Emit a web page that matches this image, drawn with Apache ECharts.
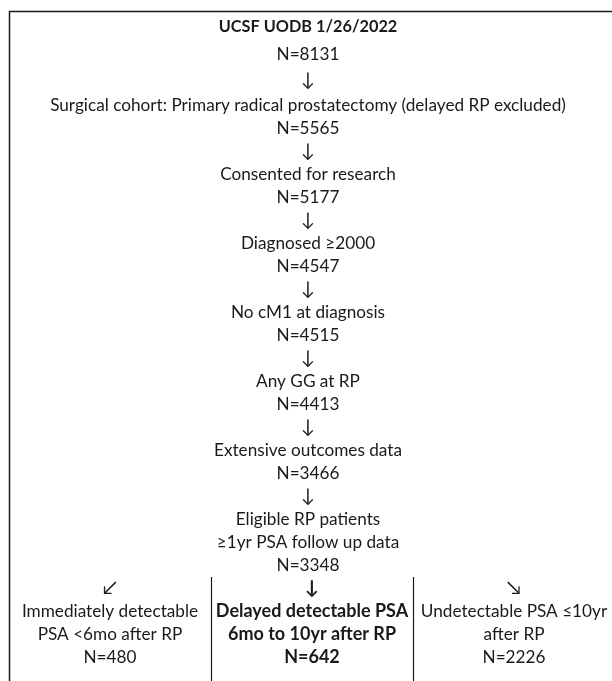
<!DOCTYPE html>
<html><head><meta charset="utf-8">
<script src="https://cdn.jsdelivr.net/npm/echarts@6/dist/echarts.min.js"></script>
<style>html,body{margin:0;padding:0;background:#fff}#c{width:612px;height:681px}</style>
</head><body><div id="c"></div>
<script>
var title = 'UCSF UODB 1/26/2022';
var steps = ['Surgical cohort: Primary radical prostatectomy (delayed RP excluded)', 'Consented for research', 'Diagnosed \u22652000', 'No cM1 at diagnosis', 'Any GG at RP', 'Extensive outcomes data', 'Eligible RP patients\n\u22651yr PSA follow up data'];
var counts = [8131, 5565, 5177, 4547, 4515, 4413, 3466, 3348];
var groups = ['Immediately detectable\nPSA <6mo after RP', 'Delayed detectable PSA\n6mo to 10yr after RP', 'Undetectable PSA \u226410yr\nafter RP'];
var groupCounts = [480, 642, 2226];
var groupArrows = ['\u2199', '\u2193', '\u2198'];

var FONT = 'Lato';
var FS = 17.2;
var AS = 19;
var LH = 23;
var CX = 308;
var els = [];
function txt(t, x, y, bold, size) {
  els.push({type: 'text', x: x, y: y, style: {text: t, font: (bold ? 'bold ' : '') + (size || FS) + 'px ' + FONT, fill: '#1a1a1a', align: 'center', verticalAlign: 'middle'}});
}
// frame
els.push({type: 'line', shape: {x1: 9, y1: 11.5, x2: 612, y2: 11.5}, style: {stroke: '#1a1a1a', lineWidth: 1.5}});
els.push({type: 'line', shape: {x1: 9.5, y1: 11, x2: 9.5, y2: 681}, style: {stroke: '#1a1a1a', lineWidth: 1.5}});
els.push({type: 'line', shape: {x1: 211.5, y1: 577, x2: 211.5, y2: 681}, style: {stroke: '#1a1a1a', lineWidth: 1.2}});
els.push({type: 'line', shape: {x1: 413.5, y1: 577, x2: 413.5, y2: 681}, style: {stroke: '#1a1a1a', lineWidth: 1.2}});

var lines = [];
lines.push({t: title, b: true, y: 27, s: 16.3});
lines.push({t: 'N=' + counts[0], y: 54});
lines.push({t: '\u2193', y: 80, s: AS});
var y = 105;
for (var i = 0; i < steps.length; i++) {
  var parts = steps[i].split('\n');
  for (var j = 0; j < parts.length; j++) { lines.push({t: parts[j], y: y}); y += LH; }
  lines.push({t: 'N=' + counts[i + 1], y: y}); y += LH;
  if (i < steps.length - 1) { lines.push({t: '\u2193', y: y, s: AS}); y += LH; }
}
lines.forEach(function (l) { txt(l.t, CX, l.y, l.b, l.s); });
var gx = [110, 312, 514];
for (var k = 0; k < groups.length; k++) {
  var yy = y;
  var gs = k === 1 ? 18 : FS;
  txt(groupArrows[k], gx[k], yy, k === 1, AS); yy += LH;
  var gp = groups[k].split('\n');
  for (var m = 0; m < gp.length; m++) { txt(gp[m], gx[k], yy, k === 1, gs); yy += LH; }
  txt('N=' + groupCounts[k], gx[k], yy, k === 1, gs);
}
var chart = echarts.init(document.getElementById('c'));
chart.setOption({animation: false, graphic: els});
</script></body></html>
